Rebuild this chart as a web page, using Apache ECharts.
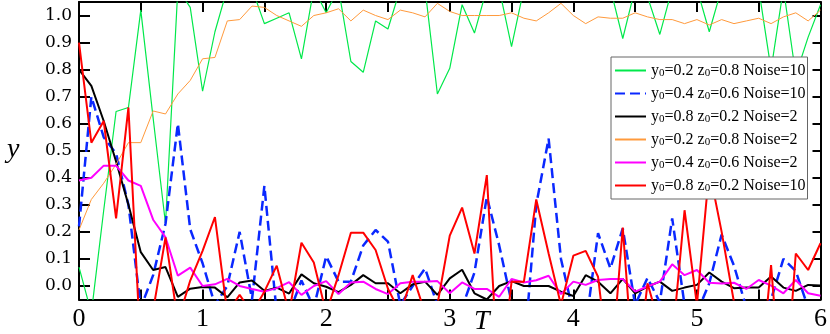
<!DOCTYPE html>
<html>
<head>
<meta charset="utf-8">
<script src="https://cdn.jsdelivr.net/npm/echarts@6/dist/echarts.min.js"></script>
<style>html,body{margin:0;padding:0;background:#fff}#c{width:830px;height:334px}</style>
</head>
<body>
<div id="c"></div>
<script>
const T = [0,0.1,0.2,0.3,0.4,0.5,0.6,0.7,0.8,0.9,1.0,1.1,1.2,1.3,1.4,1.5,1.6,1.7,1.8,1.9,2.0,2.1,2.2,2.3,2.4,2.5,2.6,2.7,2.8,2.9,3.0,3.1,3.2,3.3,3.4,3.5,3.6,3.7,3.8,3.9,4.0,4.1,4.2,4.3,4.4,4.5,4.6,4.7,4.8,4.9,5.0,5.1,5.2,5.3,5.4,5.5,5.6,5.7,5.8,5.9,6.0];
const xTickLabels = [0,1,2,3,4,5,6];
const xTicks = [0,0.5,1,1.5,2,2.5,3,3.5,4,4.5,5,5.5,6];
const yTickLabels = [0,0.1,0.2,0.3,0.4,0.5,0.6,0.7,0.8,0.9,1.0];

const green = [0.07,-0.1,0.28,0.645,0.66,1.02,0.62,0.23,1.1,1.03, 0.72,0.94,1.1,1.1,1.1,0.97,0.99,1.01,0.84,1.1, 1.01,1.1,0.83,0.79,0.98,0.95,1.1,1.1,1.1,0.71, 0.805,1.04,0.935,1.1,1.1,0.885,1.1,1.1,1.1,1.1, 1.1,1.1,1.1,1.1,0.915,1.1,1.07,0.93,1.1,1.1, 1.1,0.94,1.1,1.1,1.1,1.1,0.8,1.1,0.78,0.92, 1.04];
const blue = [0.22,0.7,0.55,0.49,0.3,-0.08,0.04,0.23,0.6,0.21, 0.084,-0.07,0.0,0.2,-0.05,0.37,-0.1,-0.1,0.02,-0.08, 0.11,0.016,0.016,0.15,0.207,0.164,-0.07,0.0,0.065,-0.07, -0.1,-0.08,0.05,0.33,0.15,-0.06,-0.25,0.3,0.545,0.1, -0.1,-0.15,0.195,0.065,0.213,-0.07,0.03,-0.06,0.25,-0.07, -0.1,0.01,0.19,0.075,-0.08,-0.1,-0.05,0.1,0.055,-0.08, -0.1];
const black = [0.8,0.74,0.61,0.46,0.3,0.125,0.059,0.07,-0.04,-0.01, -0.004,-0.006,-0.042,0.013,0.02,-0.018,-0.006,-0.028,0.043,0.01, -0.003,-0.023,0.004,0.04,0.01,0.01,-0.027,0.006,0.016,-0.033, 0.028,0.06,-0.027,-0.05,0.0,0.018,0.0,0.0,0.0,-0.021, -0.037,0.04,0.016,-0.027,0.026,-0.027,-0.002,0.016,-0.018,-0.006, 0.004,0.05,0.016,-0.008,-0.006,-0.006,0.035,-0.006,-0.018,0.004, 0.002];
const orange = [0.207,0.32,0.38,0.45,0.53,0.53,0.647,0.636,0.71,0.76, 0.84,0.845,0.98,0.985,1.035,1.03,1.0,0.98,0.96,1.0, 1.01,1.025,0.98,1.02,1.0,0.985,1.02,1.01,0.995,1.045, 1.015,1.0,1.0,1.0,1.0,1.01,0.99,0.98,1.01,1.045, 1.0,0.97,0.995,0.99,0.99,1.01,0.995,0.985,0.985,0.97, 0.985,0.965,0.985,0.97,0.98,0.99,0.97,0.995,1.01,0.98, 1.02];
const magenta = [0.39,0.4,0.445,0.445,0.39,0.37,0.245,0.18,0.038,0.068, 0.0,0.006,0.026,0.0,-0.011,-0.021,-0.008,0.014,-0.033,0.0, 0.018,-0.03,0.013,0.016,-0.011,-0.03,0.01,0.016,0.016,0.018, -0.027,0.013,-0.011,-0.011,-0.04,0.026,0.013,0.021,0.038,-0.03, 0.016,0.004,0.022,0.026,0.026,-0.021,-0.002,0.016,0.08,0.04, 0.059,0.012,0.009,0.012,-0.011,0.022,0.001,-0.027,0.022,-0.027, -0.036];
const red = [0.9,0.53,0.61,0.25,0.66,-0.25,-0.09,0.18,-0.13,0.02, 0.13,0.255,-0.1,-0.033,-0.1,-0.021,0.075,-0.1,0.16,0.087, -0.1,0.04,0.197,0.197,0.133,-0.01,-0.1,0.04,-0.1,-0.07, 0.186,0.29,0.12,0.41,-0.4,0.016,0.016,0.32,0.12,-0.07, 0.112,0.13,0.034,-0.35,0.216,-0.4,0.01,-0.15,-0.21,0.28, -0.07,0.43,0.2,-0.06,-0.3,-0.4,0.077,-0.5,0.12,0.059, 0.158];

const seriesNames = [
  'y0=0.2 z0=0.8 Noise=10',
  'y0=0.4 z0=0.6 Noise=10',
  'y0=0.8 z0=0.2 Noise=2',
  'y0=0.2 z0=0.8 Noise=2',
  'y0=0.4 z0=0.6 Noise=2',
  'y0=0.8 z0=0.2 Noise=10'
];
const seriesValues = [green, blue, black, orange, magenta, red];
const seriesStyles = [
  {color:'#00e84a', width:1.2, type:'solid'},
  {color:'#0a28ff', width:2.5, type:[10,5]},
  {color:'#000000', width:2, type:'solid'},
  {color:'#ff9a3c', width:1, type:'solid'},
  {color:'#ff00ff', width:2, type:'solid'},
  {color:'#ff0000', width:2, type:'solid'}
];

const chart = echarts.init(document.getElementById('c'), null, {renderer:'canvas'});
const axisLineStyle = {color:'#000', width:2};
const serif = 'Liberation Serif';

const option = {
  animation: false,
  backgroundColor: '#fff',
  grid: {left:79, right:7, top:2, bottom:34.5, containLabel:false},
  xAxis: [
    {type:'value', min:0, max:6, interval:0.5, position:'bottom',
     axisLine:{show:true, onZero:false, lineStyle:axisLineStyle},
     axisTick:{show:true, inside:true, length:10, customValues:xTicks, lineStyle:{color:'#000', width:2}},
     axisLabel:{show:true, customValues:xTickLabels, margin:7, fontFamily:serif, fontSize:26, color:'#000',
       formatter:(v)=>String(Math.round(v))},
     splitLine:{show:false}},
    {type:'value', min:0, max:6, interval:0.5, position:'top',
     axisLine:{show:true, onZero:false, lineStyle:axisLineStyle},
     axisTick:{show:true, inside:true, length:10, customValues:xTicks, lineStyle:{color:'#000', width:2}},
     axisLabel:{show:false}, splitLine:{show:false}}
  ],
  yAxis: [
    {type:'value', min:-0.05, max:1.05, position:'left',
     axisLine:{show:true, onZero:false, lineStyle:axisLineStyle},
     axisTick:{show:true, inside:true, length:11, customValues:yTickLabels, lineStyle:{color:'#000', width:2}},
     axisLabel:{show:true, customValues:yTickLabels, margin:7, fontFamily:'DejaVu Serif', fontSize:17, color:'#000',
       formatter:(v)=>v.toFixed(1)},
     splitLine:{show:false}},
    {type:'value', min:-0.05, max:1.05, position:'right',
     axisLine:{show:true, onZero:false, lineStyle:axisLineStyle},
     axisTick:{show:true, inside:true, length:8, customValues:yTickLabels, lineStyle:{color:'#000', width:2}},
     axisLabel:{show:false}, splitLine:{show:false}}
  ],
  legend: {
    orient:'vertical', left:611, top:57,
    backgroundColor:'#fff', borderColor:'#666', borderWidth:1,
    padding:[5,2,5,3], itemWidth:31, itemHeight:14, itemGap:6,
    itemStyle:{opacity:0, borderWidth:0},
    data: seriesNames,
    formatter: (name)=>name.replace(/([yz])0/g, '$1{sub|0}'),
    textStyle:{fontFamily:serif, fontSize:16, color:'#000', lineHeight:14,
      rich:{sub:{fontFamily:serif, fontSize:11, color:'#000', lineHeight:8, padding:[6,0,0,0]}}}
  },
  graphic: [
    {type:'text', left:7, top:136, style:{text:'y', font:'italic 28px "Liberation Serif"', fill:'#000'}},
    {type:'text', left:474, top:308, style:{text:'T', font:'italic 28px "Liberation Serif"', fill:'#000'}}
  ],
  series: seriesNames.map((n,i)=>({
    name:n, type:'line', xAxisIndex:0, yAxisIndex:0,
    showSymbol:false, symbol:'none', clip:true,
    lineStyle:seriesStyles[i], itemStyle:{color:seriesStyles[i].color},
    emphasis:{disabled:true},
    data: T.map((t,j)=>[t, seriesValues[i][j]])
  }))
};
chart.setOption(option);
</script>
</body>
</html>
